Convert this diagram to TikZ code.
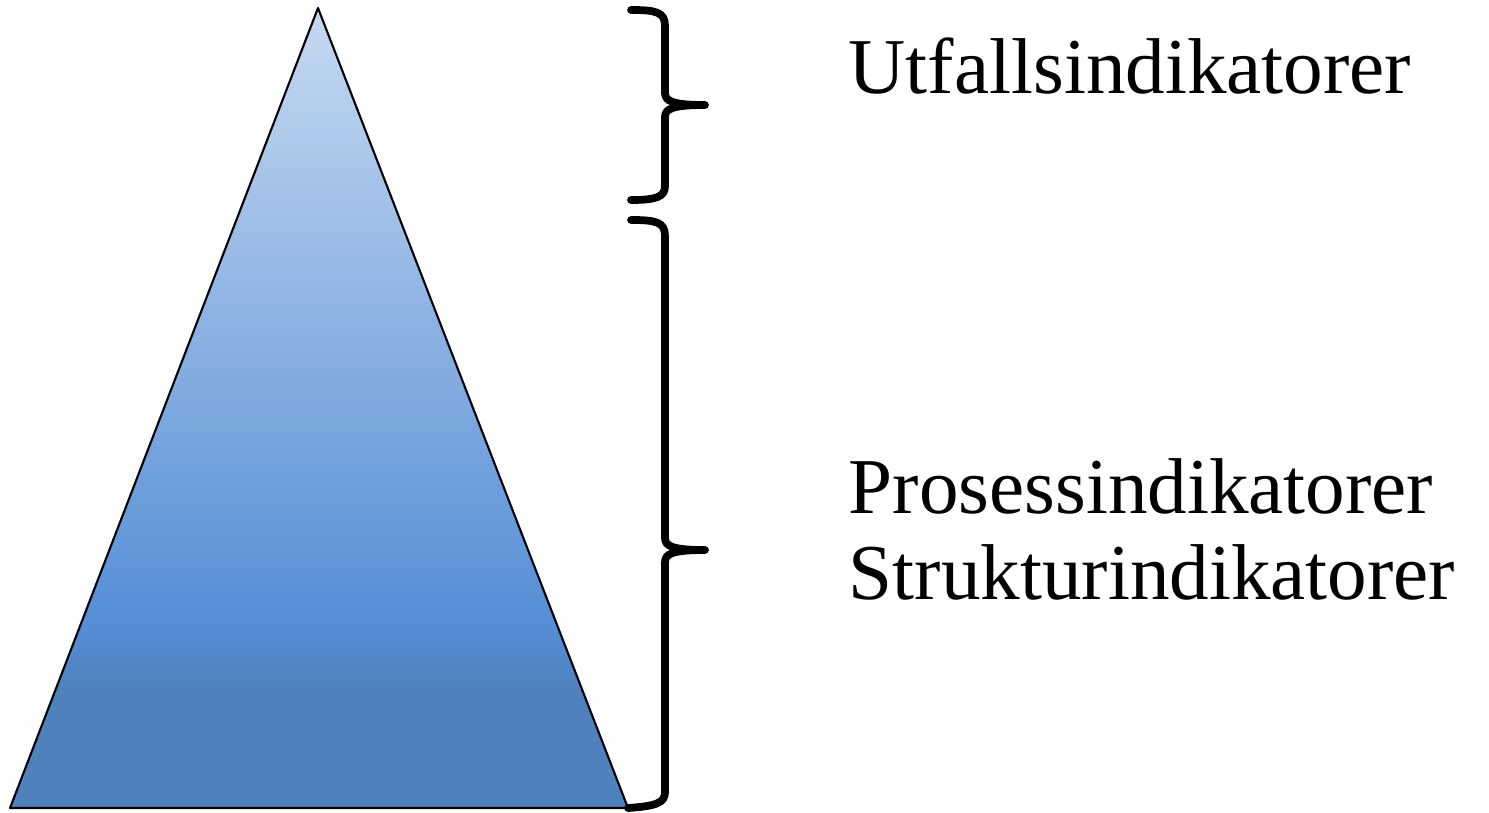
\documentclass[tikz,border=0pt]{standalone}
\usepackage{fontspec}
\setmainfont{Liberation Serif}
\usepackage{tikz}
\usetikzlibrary{positioning}
\definecolor{pyrtop}{HTML}{C6D9F1}
\definecolor{pyrmid}{HTML}{558ED5}
\definecolor{pyrbase}{HTML}{4F81BD}
\pgfdeclareverticalshading{pyramidfade}{100bp}{%
  color(0bp)=(pyrbase); color(25bp)=(pyrbase); color(32.5bp)=(pyrbase);
  color(36.5bp)=(pyrmid); color(75bp)=(pyrtop); color(100bp)=(pyrtop)}
\tikzset{
  bracket/.style={line width=2.2pt, line cap=round, line join=round},
  levellabel/.style={anchor=base west, inner sep=0pt, font=\fontsize{22.5}{27}\selectfont}
}

\begin{document}
\begin{tikzpicture}[x=0.01cm, y=-0.01cm]
\useasboundingbox (0,0) rectangle (1489,812);
% pyramid
\coordinate (apex) at (318,8);
\coordinate (baseleft) at (10,808);
\coordinate (baseright) at (628,808);
\shade[shading=pyramidfade, draw=black, line width=0.6pt, line join=round]
  (apex) -- (baseright) -- (baseleft) -- cycle;
% upper brace
\coordinate (uppertip) at (705,105);
\draw[bracket] (631,10) .. controls (656,10) and (665,12) .. (665,26)
  -- (665,93) .. controls (665,101) and (672,105) .. (uppertip)
  .. controls (672,105) and (665,109) .. (665,117)
  -- (665,186) .. controls (665,197) and (656,200) .. (631,200);
% lower brace
\coordinate (lowertip) at (705,550);
\draw[bracket] (631,220) .. controls (656,220) and (665,222) .. (665,236)
  -- (665,538) .. controls (665,546) and (672,550) .. (lowertip)
  .. controls (672,550) and (665,554) .. (665,562)
  -- (665,792) .. controls (665,803) and (656,806) .. (baseright);
% labels
\node[levellabel] (utfall) at (848,93) {Utfallsindikatorer};
\node[levellabel] (prosess) at (848,513) {Prosessindikatorer};
\node[levellabel] (struktur) at (848,599) {Strukturindikatorer};
\end{tikzpicture}
\end{document}
